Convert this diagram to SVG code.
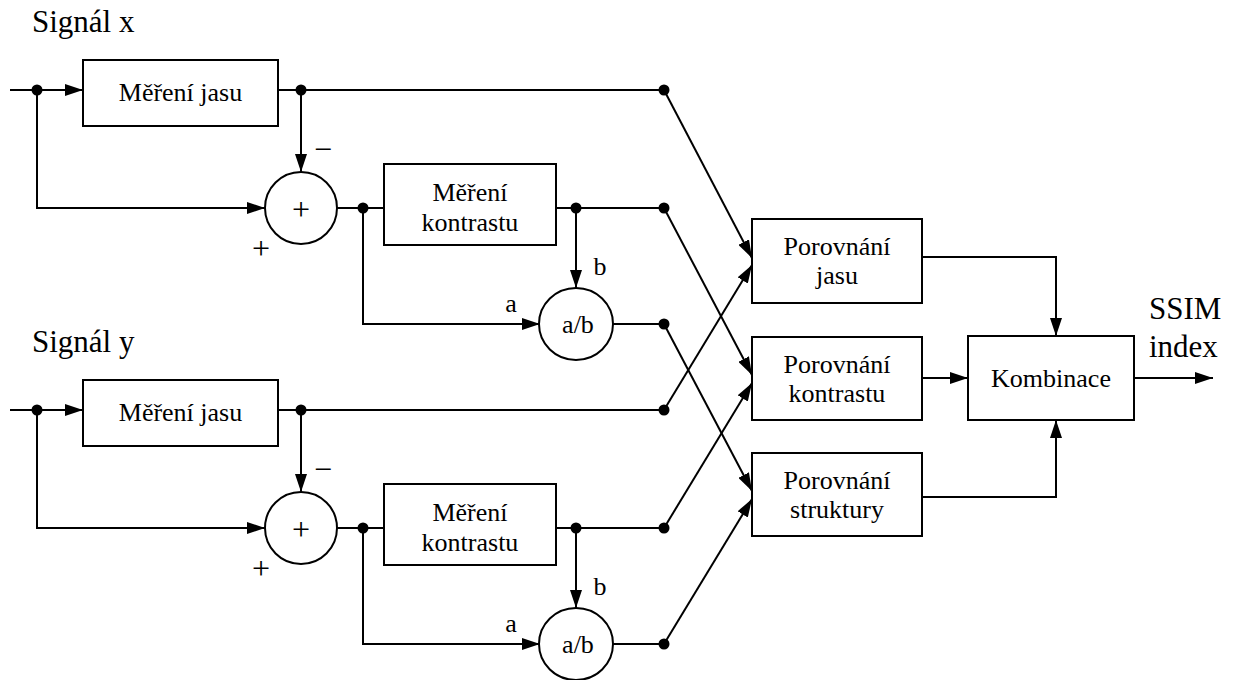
<svg xmlns="http://www.w3.org/2000/svg" width="1234" height="680" viewBox="0 0 1234 680" font-family="Liberation Serif, Times New Roman, serif">
<style>
  .box{fill:#fff;stroke:#000;stroke-width:2}
  .circ{fill:#fff;stroke:#000;stroke-width:2}
  .ln{fill:none;stroke:#000;stroke-width:2}
  .arr{fill:none;stroke:#000;stroke-width:2;marker-end:url(#ah)}
  .dot{fill:#000}
  .t{font-family:'Liberation Serif',serif;font-size:26px;fill:#000;text-anchor:middle}
  .op{font-family:'Liberation Serif',serif;font-size:32px;fill:#000;text-anchor:middle}
  .big{font-family:'Liberation Serif',serif;font-size:31px;fill:#000}
</style>
<defs>
  <marker id="ah" markerUnits="userSpaceOnUse" markerWidth="18" markerHeight="12" refX="18" refY="6" orient="auto">
    <path d="M0,0 L18,6 L0,12 z" fill="#000"/>
  </marker>
</defs>
<rect width="1234" height="680" fill="#fff"/>

<g id="connectors">
  <line class="arr" x1="10" y1="90" x2="83" y2="90"/>
  <line class="ln" x1="278" y1="90" x2="664" y2="90"/>
  <line class="arr" x1="301" y1="90" x2="301" y2="172"/>
  <polyline class="arr" points="37,90 37,208 265,208"/>
  <line class="ln" x1="337" y1="208" x2="384" y2="208"/>
  <line class="ln" x1="556" y1="208" x2="664" y2="208"/>
  <polyline class="arr" points="363,208 363,324 540,324"/>
  <line class="arr" x1="576" y1="208" x2="576" y2="288"/>
  <line class="ln" x1="612" y1="324" x2="664" y2="324"/>
  <line class="arr" x1="10" y1="410" x2="83" y2="410"/>
  <line class="ln" x1="278" y1="410" x2="664" y2="410"/>
  <line class="arr" x1="301" y1="410" x2="301" y2="492"/>
  <polyline class="arr" points="37,410 37,528 265,528"/>
  <line class="ln" x1="337" y1="528" x2="384" y2="528"/>
  <line class="ln" x1="556" y1="528" x2="664" y2="528"/>
  <polyline class="arr" points="363,528 363,644 540,644"/>
  <line class="arr" x1="576" y1="528" x2="576" y2="608"/>
  <line class="ln" x1="612" y1="644" x2="664" y2="644"/>
  <line class="arr" x1="664" y1="90" x2="752" y2="258"/>
  <line class="arr" x1="664" y1="410" x2="752" y2="265"/>
  <line class="arr" x1="664" y1="208" x2="752" y2="375"/>
  <line class="arr" x1="664" y1="528" x2="752" y2="383"/>
  <line class="arr" x1="664" y1="324" x2="752" y2="491"/>
  <line class="arr" x1="664" y1="644" x2="752" y2="499"/>
  <polyline class="arr" points="922,257 1056,257 1056,336"/>
  <line class="arr" x1="922" y1="378" x2="968" y2="378"/>
  <polyline class="arr" points="922,497 1056,497 1056,420"/>
  <line class="arr" x1="1134" y1="378" x2="1213" y2="378"/>
  <circle class="dot" cx="37" cy="90" r="5.5"/>
  <circle class="dot" cx="301" cy="90" r="5.5"/>
  <circle class="dot" cx="664" cy="90" r="5.5"/>
  <circle class="dot" cx="363" cy="208" r="5.5"/>
  <circle class="dot" cx="576" cy="208" r="5.5"/>
  <circle class="dot" cx="664" cy="208" r="5.5"/>
  <circle class="dot" cx="664" cy="324" r="5.5"/>
  <circle class="dot" cx="37" cy="410" r="5.5"/>
  <circle class="dot" cx="301" cy="410" r="5.5"/>
  <circle class="dot" cx="664" cy="410" r="5.5"/>
  <circle class="dot" cx="363" cy="528" r="5.5"/>
  <circle class="dot" cx="576" cy="528" r="5.5"/>
  <circle class="dot" cx="664" cy="528" r="5.5"/>
  <circle class="dot" cx="664" cy="644" r="5.5"/>
</g>

<g id="labels">
  <text class="big" x="32" y="32">Signál x</text>
  <text class="big" x="32" y="352">Signál y</text>
  <text class="big" x="1149" y="319">SSIM</text>
  <text class="big" x="1149" y="357">index</text>
  <text class="op" x="323" y="160">−</text>
  <text class="op" x="261" y="259">+</text>
  <text class="t" x="600" y="275">b</text>
  <text class="t" x="511" y="312">a</text>
  <text class="op" x="323" y="480">−</text>
  <text class="op" x="261" y="579">+</text>
  <text class="t" x="600" y="595">b</text>
  <text class="t" x="511" y="632">a</text>
</g>

<g id="mereni-jasu-x">
  <rect class="box" x="83" y="60" width="195" height="66"/>
  <text class="t" x="180.5" y="101">Měření jasu</text>
</g>
<g id="soucet-x">
  <circle class="circ" cx="301" cy="208" r="36"/>
  <text class="op" x="301" y="220">+</text>
</g>
<g id="mereni-kontrastu-x">
  <rect class="box" x="384" y="164" width="172" height="81"/>
  <text class="t" x="470" y="201">Měření</text>
  <text class="t" x="470" y="231">kontrastu</text>
</g>
<g id="podil-x">
  <ellipse class="circ" cx="576" cy="324" rx="37" ry="36"/>
  <text class="t" x="578" y="333">a/b</text>
</g>

<g id="mereni-jasu-y">
  <rect class="box" x="83" y="380" width="195" height="66"/>
  <text class="t" x="180.5" y="421">Měření jasu</text>
</g>
<g id="soucet-y">
  <circle class="circ" cx="301" cy="528" r="36"/>
  <text class="op" x="301" y="540">+</text>
</g>
<g id="mereni-kontrastu-y">
  <rect class="box" x="384" y="484" width="172" height="81"/>
  <text class="t" x="470" y="521">Měření</text>
  <text class="t" x="470" y="551">kontrastu</text>
</g>
<g id="podil-y">
  <ellipse class="circ" cx="576" cy="644" rx="37" ry="36"/>
  <text class="t" x="578" y="653">a/b</text>
</g>

<g id="porovnani-jasu">
  <rect class="box" x="752" y="219" width="170" height="84"/>
  <text class="t" x="837" y="255">Porovnání</text>
  <text class="t" x="837" y="284">jasu</text>
</g>
<g id="porovnani-kontrastu">
  <rect class="box" x="752" y="337" width="170" height="83"/>
  <text class="t" x="837" y="373">Porovnání</text>
  <text class="t" x="837" y="402">kontrastu</text>
</g>
<g id="porovnani-struktury">
  <rect class="box" x="752" y="453" width="170" height="83"/>
  <text class="t" x="837" y="489">Porovnání</text>
  <text class="t" x="837" y="518">struktury</text>
</g>
<g id="kombinace">
  <rect class="box" x="968" y="336" width="166" height="84"/>
  <text class="t" x="1051" y="387">Kombinace</text>
</g>
</svg>
